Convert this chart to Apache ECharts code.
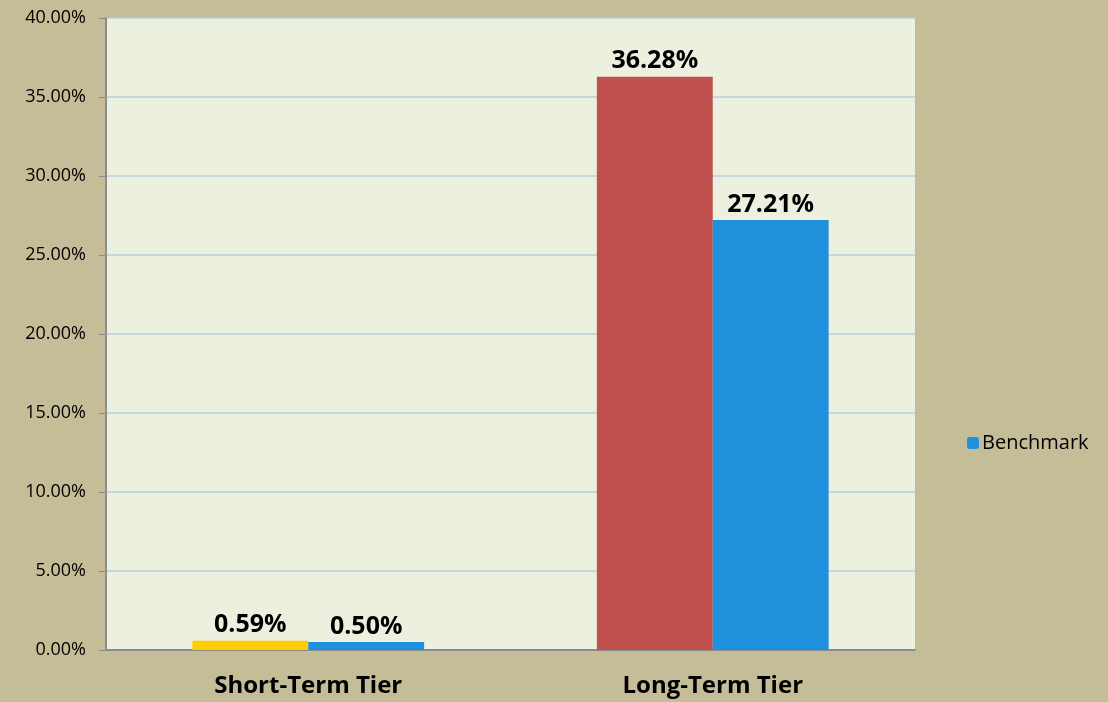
<!DOCTYPE html>
<html>
<head>
<meta charset="utf-8">
<script src="https://cdn.jsdelivr.net/npm/echarts@6/dist/echarts.min.js"></script>
<style>
  html, body { margin: 0; padding: 0; background: #c4bd97; }
  #chart { width: 1108px; height: 702px; }
</style>
</head>
<body>
<div id="chart"></div>
<script>
// Tier returns: portfolio vs. benchmark
const categories = ['Short-Term Tier', 'Long-Term Tier'];
const portfolioValues = [0.59, 36.28];
const portfolioColors = ['#ffcc00', '#c0504d'];
const benchmarkValues = [0.50, 27.21];
const yTicks = { min: 0, max: 40, interval: 5 };

const FONT = 'Open Sans, Noto Sans, sans-serif';

const chart = echarts.init(document.getElementById('chart'), null, { renderer: 'canvas' });

const valueLabel = {
  show: true,
  position: 'top',
  distance: 3,
  formatter: p => p.value.toFixed(2) + '%',
  fontFamily: FONT,
  fontSize: 25,
  fontWeight: 'bold',
  color: '#000'
};

chart.setOption({
  backgroundColor: '#c4bd97',
  animation: false,
  grid: {
    left: 106, right: 193, top: 18, bottom: 52,
    show: true, backgroundColor: '#ebf1de', borderWidth: 0
  },
  legend: {
    data: ['Benchmark'],
    orient: 'vertical',
    left: 962, top: 428,
    itemWidth: 12, itemHeight: 12, itemGap: 4,
    textStyle: { fontFamily: FONT, fontSize: 20, color: '#000', padding: [0, 0, 0, -2] }
  },
  xAxis: {
    type: 'category',
    data: categories,
    axisLine: { lineStyle: { color: '#8c8c8c', width: 2 } },
    axisTick: { show: false },
    axisLabel: {
      fontFamily: FONT, fontSize: 24, fontWeight: 'bold', color: '#000', margin: 24
    }
  },
  yAxis: {
    type: 'value',
    min: yTicks.min, max: yTicks.max, interval: yTicks.interval,
    axisLine: { show: true, lineStyle: { color: '#8c8c8c', width: 2 } },
    axisTick: { show: true, length: 7, lineStyle: { color: '#8c8c8c', width: 1 } },
    axisLabel: {
      formatter: v => v.toFixed(2) + '%',
      fontFamily: FONT, fontSize: 18, color: '#000', margin: 20
    },
    splitLine: { lineStyle: { color: '#b9cde5', width: 1.5 } }
  },
  series: [
    {
      name: 'Portfolio',
      type: 'bar',
      barGap: '0%',
      barCategoryGap: '42.7%',
      data: portfolioValues.map((v, i) => ({ value: v, itemStyle: { color: portfolioColors[i] } })),
      label: valueLabel
    },
    {
      name: 'Benchmark',
      type: 'bar',
      itemStyle: { color: '#1f91dc' },
      data: benchmarkValues,
      label: valueLabel
    }
  ]
});
</script>
</body>
</html>
